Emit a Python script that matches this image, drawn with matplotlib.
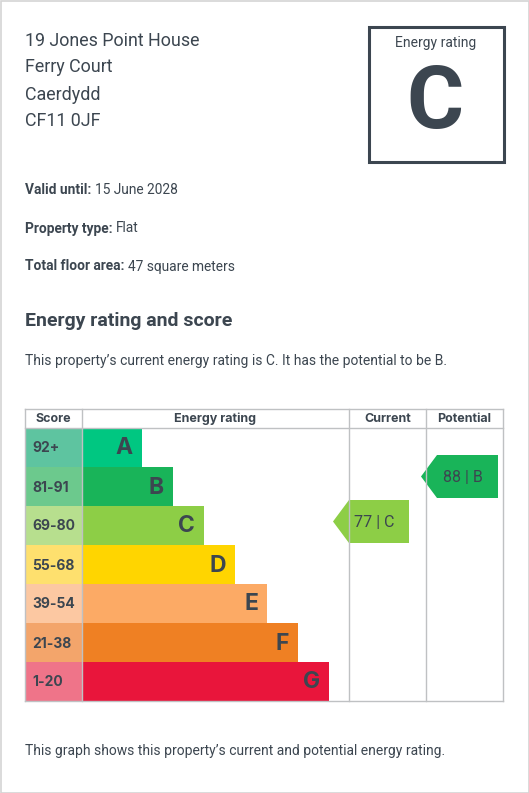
import matplotlib.pyplot as plt
from matplotlib.patches import Rectangle, Polygon

# address and details
address = ['19 Jones Point House', 'Ferry Court', 'Caerdydd', 'CF11 0JF']
details = [('Valid until:', '15 June 2028'),
           ('Property type:', 'Flat'),
           ('Total floor area:', '47 square meters')]
current_rating = 'C'
current_score = 77
potential_rating = 'B'
potential_score = 88

# bands
bands = ['A', 'B', 'C', 'D', 'E', 'F', 'G']
score_ranges = ['92+', '81-91', '69-80', '55-68', '39-54', '21-38', '1-20']
bar_colors = ['#00c781', '#19b459', '#8dce46', '#ffd500', '#fcaa65', '#ef8023', '#e9153b']
score_colors = ['#5ec4a0', '#6cc98d', '#b7df8e', '#fee06e', '#fcc8a2', '#f3a56b', '#ef7489']
bar_ends = [142, 173, 204, 235, 267, 298, 329]

TXT = '#3c4650'
GRID = '#bfc1c3'
plt.rcParams['font.family'] = ['Roboto', 'DejaVu Sans']

fig = plt.figure(figsize=(5.29, 7.93), dpi=100)
ax = fig.add_axes([0, 0, 1, 1])
ax.set_xlim(0, 529)
ax.set_ylim(793, 0)
ax.axis('off')

# outer frame
ax.add_patch(Rectangle((0.5, 0.5), 528, 792, fill=False, ec='#d4d4d4', lw=1.2))

for i, line in enumerate(address):
    ax.text(25, 40.5 + 27 * i, line, fontsize=12.9, color=TXT, va='center', ha='left')

# rating box
ax.add_patch(Rectangle((368.5, 26.5), 135, 135, fill=False, ec=TXT, lw=2.2))
ax.text(436, 43, 'Energy rating', fontsize=10, color=TXT, ha='center', va='center')
ax.text(435, 104, current_rating, fontsize=63, fontweight='bold', color=TXT,
        ha='center', va='center')

# details
for i, (lab, val) in enumerate(details):
    y = 190.5 + 38 * i
    t = ax.text(25, y, lab + ' ', fontsize=9.9, fontweight='bold', color=TXT, va='center')
    fig.canvas.draw()
    bb = t.get_window_extent().transformed(ax.transData.inverted())
    ax.text(bb.x1, y, val, fontsize=9.9, color=TXT, va='center')

ax.text(25, 320.5, 'Energy rating and score', fontsize=14, fontweight='bold', color=TXT, va='center')
ax.text(25, 361.5, 'This property\u2019s current energy rating is C. It has the potential to be B.',
        fontsize=10, color=TXT, va='center')

# table
top, head_bot, row_h = 409, 428, 39
cols = [25, 82, 349, 426, 503]
bottom = head_bot + row_h * len(bands)
for i, b in enumerate(bands):
    y0 = head_bot + row_h * i
    ax.add_patch(Rectangle((cols[0], y0), cols[1] - cols[0], row_h, fc=score_colors[i], ec='none'))
    ax.add_patch(Rectangle((cols[1], y0), bar_ends[i] - cols[1], row_h, fc=bar_colors[i], ec='none'))
    ax.text(32, y0 + row_h / 2 + 1, score_ranges[i], fontsize=10, fontweight='bold', color=TXT,
            va='center', ha='left', family=['Inter', 'DejaVu Sans'])
    ax.text(bar_ends[i] - 9, y0 + row_h / 2 + 1, b, fontsize=16.5, fontweight='bold', color=TXT,
            va='center', ha='right', family=['Inter', 'DejaVu Sans'])

for y in (top, head_bot, bottom):
    ax.plot([cols[0], cols[-1]], [y, y], color=GRID, lw=1)
for x in cols:
    ax.plot([x, x], [top, bottom], color=GRID, lw=1)

headers = ['Score', 'Energy rating', 'Current', 'Potential']
for i, h in enumerate(headers):
    ax.text((cols[i] + cols[i + 1]) / 2, (top + head_bot) / 2 + 0.5, h, fontsize=9,
            fontweight='bold', color=TXT, ha='center', va='center',
            family=['Inter', 'DejaVu Sans'])


def arrow(x_left, x_right, band, offset, score, rating):
    i = bands.index(band)
    yc = head_bot + row_h * i + row_h / 2 + offset
    h = 43
    pts = [(x_left, yc), (x_left + 16, yc - h / 2), (x_right, yc - h / 2),
           (x_right, yc + h / 2), (x_left + 16, yc + h / 2)]
    ax.add_patch(Polygon(pts, closed=True, fc=bar_colors[i], ec='none'))
    ax.text((x_left + 16 + x_right) / 2 - 5, yc + 1, f'{score} | {rating}', fontsize=11.5,
            color=TXT, ha='center', va='center')


arrow(333, 409, current_rating, -4, current_score, current_rating)
arrow(421, 498, potential_rating, -10, potential_score, potential_rating)

ax.text(25, 750.5, 'This graph shows this property\u2019s current and potential energy rating.',
        fontsize=10, color=TXT, va='center')

fig.savefig('out.png', dpi=100)
